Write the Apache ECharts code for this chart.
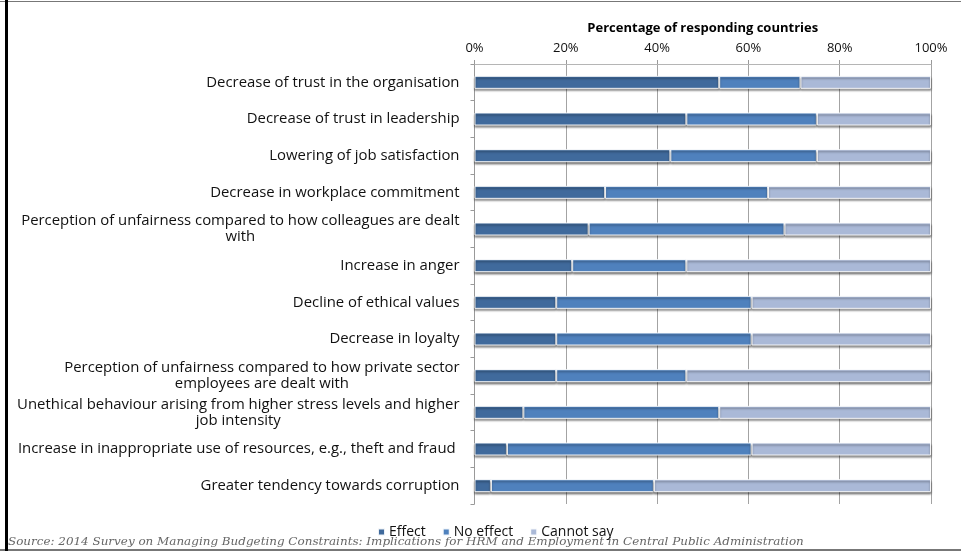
<!DOCTYPE html>
<html>
<head>
<meta charset="utf-8">
<title>Effects of budget constraints on staff</title>
<script src="https://cdn.jsdelivr.net/npm/echarts@6/dist/echarts.min.js"></script>
<style>
  html, body { margin: 0; padding: 0; background: #fff; }
  #chart { width: 961px; height: 551px; }
</style>
</head>
<body>
<div id="chart"></div>
<script>
// Survey items, top to bottom
const categories = [
  'Decrease of trust in the organisation',
  'Decrease of trust in leadership',
  'Lowering of job satisfaction',
  'Decrease in workplace commitment',
  'Perception of unfairness compared to how colleagues are dealt\nwith',
  'Increase in anger',
  'Decline of ethical values',
  'Decrease in loyalty',
  'Perception of unfairness compared to how private sector\nemployees are dealt with',
  'Unethical behaviour arising from higher stress levels and higher\njob intensity',
  'Increase in inappropriate use of resources, e.g., theft and fraud ',
  'Greater tendency towards corruption'
];

// Share of responding countries (%)
const effect    = [53.6, 46.4, 42.9, 28.6, 25.0, 21.4, 17.9, 17.9, 17.9, 10.7, 7.1, 3.6];
const noEffect  = [17.8, 28.6, 32.1, 35.7, 42.9, 25.0, 42.8, 42.8, 28.5, 42.9, 53.6, 35.7];
const cannotSay = [28.6, 25.0, 25.0, 35.7, 32.1, 53.6, 39.3, 39.3, 53.6, 46.4, 39.3, 60.7];

const tickLabels = ['0%', '20%', '40%', '60%', '80%', '100%'];

const seriesNames = ['Effect', 'No effect', 'Cannot say'];
const seriesColors = ['#406A9C', '#4F81BD', '#AAB9D7'];

const labelFont = '"Open Sans", sans-serif';

const chart = echarts.init(document.getElementById('chart'), null, { renderer: 'canvas' });

function barSeries(name, data, color) {
  return {
    name: name,
    type: 'bar',
    stack: 'total',
    data: data,
    barWidth: 13,
    itemStyle: {
      color: color,
      borderColor: 'rgba(255,255,255,0.9)',
      borderWidth: 1,
      shadowColor: 'rgba(0,0,0,0.45)',
      shadowBlur: 2,
      shadowOffsetY: 2
    },
    emphasis: { disabled: true }
  };
}

chart.setOption({
  animation: false,
  backgroundColor: '#fff',
  grid: { left: 474.5, right: 30, top: 64, bottom: 47, containLabel: false },
  xAxis: {
    type: 'value',
    position: 'top',
    min: 0,
    max: 100,
    interval: 20,
    name: 'Percentage of responding countries',
    nameLocation: 'middle',
    nameGap: 29,
    nameTextStyle: { fontFamily: labelFont, fontWeight: 'bold', fontSize: 13, color: '#000' },
    axisLine: { show: true, lineStyle: { color: '#b5b5b5', width: 1 } },
    axisTick: { show: true, length: 4, lineStyle: { color: '#999' } },
    splitLine: { show: true, lineStyle: { color: '#a3a3a3', width: 1 } },
    axisLabel: {
      margin: 9,
      fontFamily: labelFont,
      fontSize: 13,
      color: '#111',
      formatter: v => tickLabels[Math.round(v / 20)]
    }
  },
  yAxis: {
    type: 'category',
    inverse: true,
    data: categories,
    axisLine: { show: true, lineStyle: { color: '#999', width: 1 } },
    axisTick: { show: true, length: 4, lineStyle: { color: '#999' } },
    splitLine: { show: false },
    axisLabel: {
      margin: 15,
      fontFamily: labelFont,
      fontSize: 14.9,
      color: '#111',
      lineHeight: 16,
      formatter: v => v.split('\n').map(l => '{c|' + l + '}').join('\n'),
      rich: {
        c: { align: 'center', fontFamily: labelFont, fontSize: 14.9, lineHeight: 16, color: '#111' }
      }
    }
  },
  legend: {
    data: seriesNames,
    bottom: 7,
    left: 372,
    itemWidth: 7,
    itemHeight: 7,
    itemGap: 16,
    icon: 'rect',
    textStyle: { fontFamily: labelFont, fontSize: 14, color: '#111', padding: [0, 0, 0, -1] }
  },
  series: [
    barSeries(seriesNames[0], effect, seriesColors[0]),
    barSeries(seriesNames[1], noEffect, seriesColors[1]),
    barSeries(seriesNames[2], cannotSay, seriesColors[2])
  ],
  graphic: [
    // frame: thin top and bottom rules, heavy left rule
    { type: 'rect', shape: { x: 0, y: 1, width: 961, height: 1 }, style: { fill: '#777' }, silent: true },
    { type: 'rect', shape: { x: 0, y: 549, width: 961, height: 2 }, style: { fill: '#777' }, silent: true },
    { type: 'rect', shape: { x: 5, y: 0, width: 3, height: 551 }, style: { fill: '#000' }, silent: true },
    {
      type: 'text',
      left: 8,
      top: 536,
      style: {
        text: 'Source: 2014 Survey on Managing Budgeting Constraints: Implications for HRM and Employment in Central Public Administration',
        fontFamily: '"DejaVu Serif", serif',
        fontStyle: 'italic',
        fontSize: 11.95,
        fill: '#666'
      },
      silent: true
    }
  ]
});
</script>
</body>
</html>
